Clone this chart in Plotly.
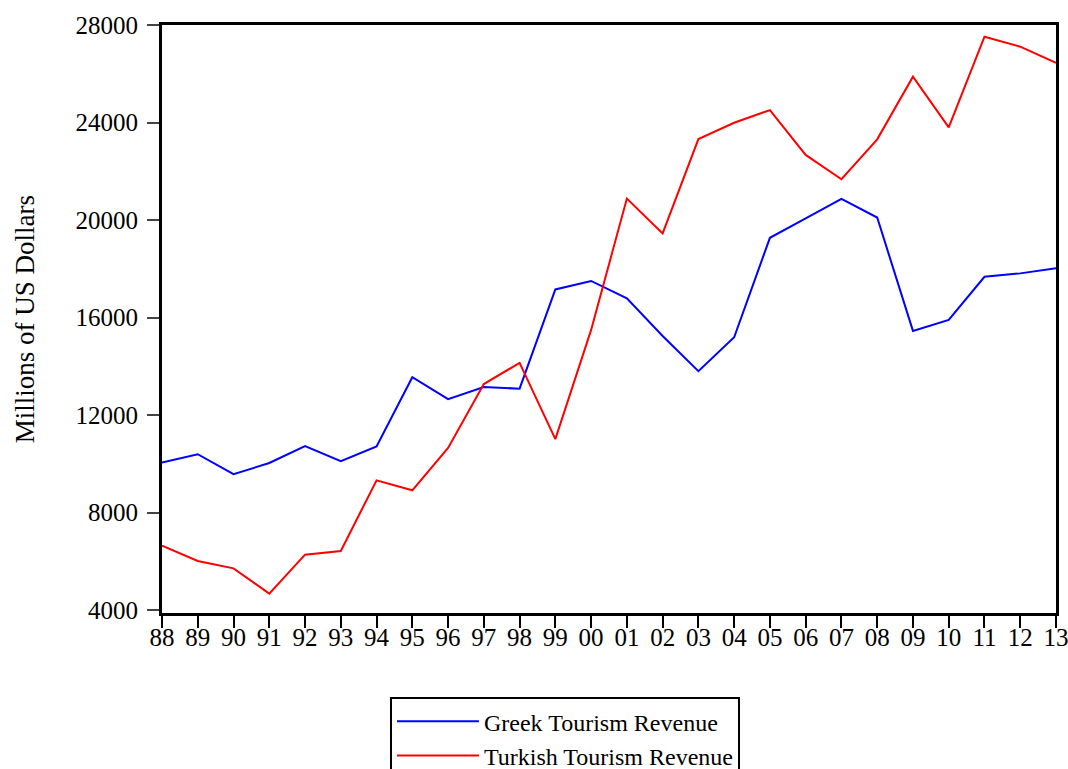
import plotly.graph_objects as go

years = ["88", "89", "90", "91", "92", "93", "94", "95", "96", "97", "98", "99", "00",
         "01", "02", "03", "04", "05", "06", "07", "08", "09", "10", "11", "12", "13"]

greek = [10050, 10390, 9570, 10030, 10720, 10110, 10710, 13550, 12650, 13150, 13080,
         17150, 17500, 16790, 15240, 13800, 15190, 19270, 20070, 20870, 20100,
         15450, 15900, 17670, 17810, 18020]

turkish = [6640, 6010, 5710, 4670, 6270, 6420, 9320, 8910, 10650, 13270, 14140,
           11010, 15490, 20880, 19450, 23320, 23990, 24510, 22670, 21670, 23310,
           25880, 23800, 27520, 27110, 26450]

y_ticks = [4000, 8000, 12000, 16000, 20000, 24000, 28000]

serif = "Liberation Serif"

fig = go.Figure()
fig.add_trace(go.Scatter(x=years, y=greek, mode="lines", name="Greek Tourism Revenue",
                         line=dict(color="#0000FF", width=2)))
fig.add_trace(go.Scatter(x=years, y=turkish, mode="lines", name="Turkish Tourism Revenue",
                         line=dict(color="#FF0000", width=2)))

fig.update_layout(
    width=1068,
    height=769,
    margin=dict(l=162, r=12, t=25, b=156, autoexpand=False),
    paper_bgcolor="white",
    plot_bgcolor="white",
    font=dict(family=serif, color="black"),
    showlegend=True,
    legend=dict(
        x=0.255, y=-0.143, xanchor="left", yanchor="top",
        orientation="v",
        bordercolor="black", borderwidth=2,
        font=dict(family=serif, size=24, color="black"),
        itemwidth=82,
        tracegroupgap=0,
    ),
)

fig.update_xaxes(
    type="category",
    range=[0, len(years) - 1],
    automargin=False,
    showline=True, linecolor="black", linewidth=3, mirror=True,
    showgrid=False, zeroline=False,
    ticks="outside", ticklen=12, tickwidth=2, tickcolor="black",
    ticklabelstandoff=-12,
    tickfont=dict(family=serif, size=25, color="black"),
)

fig.update_yaxes(
    range=[3877, 28000],
    tickvals=y_ticks,
    ticktext=[str(v) for v in y_ticks],
    automargin=False,
    showline=True, linecolor="black", linewidth=3, mirror=True,
    showgrid=False, zeroline=False,
    ticks="outside", ticklen=12, tickwidth=1.5, tickcolor="#444444",
    ticklabelstandoff=4,
    tickfont=dict(family=serif, size=25, color="black"),
)

fig.add_annotation(
    x=-0.153, y=0.5, xref="paper", yref="paper",
    text="Millions of US Dollars", textangle=-90,
    font=dict(family=serif, size=27, color="black"),
    showarrow=False, xanchor="center", yanchor="middle",
)

fig.write_html("out.html", config={"displayModeBar": False},
               post_script="document.body.style.margin = '0';")
